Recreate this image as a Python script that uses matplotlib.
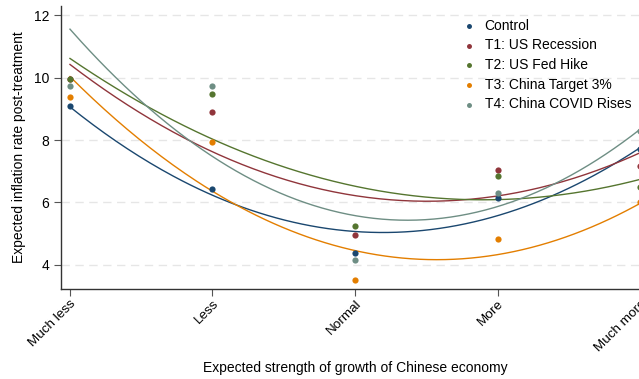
import numpy as np
import matplotlib.pyplot as plt

plt.rcParams['font.family'] = ['Liberation Sans', 'DejaVu Sans']

categories = ['Much less', 'Less', 'Normal', 'More', 'Much more']
xpos = [1, 2, 3, 4, 5]

groups = ['Control', 'T1: US Recession', 'T2: US Fed Hike',
          'T3: China Target 3%', 'T4: China COVID Rises']
colors = ['#1a476f', '#90353b', '#55752f', '#e37e00', '#6e8e84']

# mean expectation by category
means_control = [9.10, 6.43, 4.38, 6.13, 7.70]
means_t1 = [9.95, 8.90, 4.95, 7.03, 7.17]
means_t2 = [9.95, 9.48, 5.25, 6.86, 6.49]
means_t3 = [9.37, 7.95, 3.51, 4.82, 6.00]
means_t4 = [9.72, 9.72, 4.15, 6.31, 8.30]

# quadratic fit values at each category
fit_control = [9.06, 6.23, 5.07, 5.58, 7.75]
fit_t1 = [10.42, 7.62, 6.22, 6.21, 7.59]
fit_t2 = [10.61, 8.03, 6.52, 6.09, 6.74]
fit_t3 = [10.03, 6.36, 4.46, 4.33, 5.97]
fit_t4 = [11.55, 7.47, 5.58, 5.87, 8.34]

means = [means_control, means_t1, means_t2, means_t3, means_t4]
fits = [fit_control, fit_t1, fit_t2, fit_t3, fit_t4]

fig = plt.figure(figsize=(6.39, 3.79), dpi=100)
ax = fig.add_axes([61 / 639, 90 / 379, 588 / 639, 283 / 379])

xs = np.linspace(1, 5, 200)
for name, c, m in zip(groups, colors, means):
    ax.scatter(xpos, m, s=20, color=c, zorder=3, label=name, linewidths=0)
for c, f in zip(colors, fits):
    coef = np.polyfit(xpos, f, 2)
    ax.plot(xs, np.polyval(coef, xs), color=c, lw=1.0, zorder=2)

ax.set_xlim(0.937, 5.063)
ax.set_ylim(3.23, 12.29)
ax.set_yticks([4, 6, 8, 10, 12])
ax.set_xticks(xpos)
ax.set_xticklabels(categories, rotation=45, ha='right', rotation_mode='anchor')
ax.tick_params(axis='both', labelsize=10, color='#555555', length=5)
ax.tick_params(axis='x', pad=1, labelsize=9.7)
ax.grid(axis='y', color='#e6e6e6', linestyle=(0, (6, 4)), lw=1)
ax.set_axisbelow(True)
for s in ['top', 'right']:
    ax.spines[s].set_visible(False)
for s in ['left', 'bottom']:
    ax.spines[s].set_color('#333333')
    ax.spines[s].set_linewidth(1.0)

# axis titles placed as in the original layout
fig.text(355 / 639, 1 - 368 / 379, 'Expected strength of growth of Chinese economy',
         fontsize=10, ha='center', va='center')
fig.text(19 / 639, 1 - 147 / 379, 'Expected inflation rate post-treatment',
         fontsize=10, ha='center', va='center', rotation=90)

leg = ax.legend(loc='upper left', bbox_to_anchor=(393 / 588, 0.99), frameon=False,
                fontsize=10, handlelength=0.8, handletextpad=0.7, labelspacing=0.41,
                markerscale=0.8, borderaxespad=0.3)

fig.savefig('out.png', dpi=100)
